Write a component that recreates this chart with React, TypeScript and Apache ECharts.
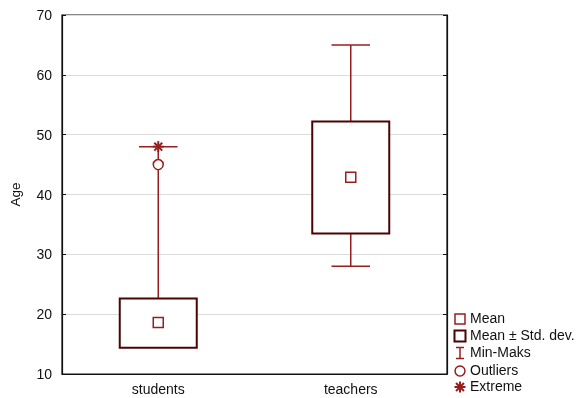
import React, { useEffect, useRef } from "react";
import * as echarts from "echarts";

const categories = ["students", "teachers"];
const means = [18.6, 42.9];
const sdLow = [14.4, 33.5];
const sdHigh = [22.6, 52.2];
const minVals = [17.0, 28.0];
const maxVals = [48.0, 65.0];
const outliers = [[0, 45.0]];
const extremes = [[0, 48.0]];
const yTicks = { min: 10, max: 70, interval: 10 };

const RED = "#981e1e";
const DARK = "#4a0404";
const FONT = "Liberation Sans, Arial, sans-serif";

export default function App() {
  const ref = useRef<HTMLDivElement>(null);
  useEffect(() => {
    const chart = echarts.init(ref.current!, null, { renderer: "svg" });
    const boxData = categories.map((_, i) => [i, minVals[i], maxVals[i], sdLow[i], sdHigh[i], means[i]]);

    const asterisk = (cx: number, cy: number, r: number, w: number, color: string) => {
      const d = r * 0.72;
      const segs = [
        [cx, cy - r, cx, cy + r],
        [cx - r, cy, cx + r, cy],
        [cx - d, cy - d, cx + d, cy + d],
        [cx - d, cy + d, cx + d, cy - d],
      ];
      return segs.map((s) => ({
        type: "line",
        shape: { x1: s[0], y1: s[1], x2: s[2], y2: s[3] },
        style: { stroke: color, lineWidth: w },
      }));
    };

    const lx = 460;
    const legendText = (y: number, t: string) => ({
      type: "text",
      left: 470,
      top: y - 8,
      style: { text: t, fill: "#111", font: `14px ${FONT}` },
    });

    chart.setOption({
      animation: false,
      grid: { left: 62, right: 132, top: 15, bottom: 24, show: true, borderColor: "#111", borderWidth: 1.2 },
      xAxis: {
        type: "category",
        data: categories,
        axisLine: { lineStyle: { color: "#111", width: 1.2 } },
        axisTick: { inside: true, alignWithLabel: true, length: 4, lineStyle: { color: "#111" } },
        axisLabel: { color: "#111", fontFamily: FONT, fontSize: 14, margin: 8 },
        splitLine: { show: false },
      },
      yAxis: [
        {
          type: "value",
          ...yTicks,
          name: "Age",
          nameLocation: "middle",
          nameGap: 40,
          nameTextStyle: { color: "#111", fontFamily: FONT, fontSize: 13.5 },
          axisLine: { show: true, lineStyle: { color: "#111", width: 1.2 } },
          axisTick: { show: true, inside: true, length: 4, lineStyle: { color: "#111" } },
          axisLabel: { color: "#111", fontFamily: FONT, fontSize: 14, margin: 10 },
          splitLine: { show: true, lineStyle: { color: "#dcdcdc", width: 1 } },
        },
        {
          type: "value",
          ...yTicks,
          position: "right",
          axisLine: { show: true, lineStyle: { color: "#111", width: 1.2 } },
          axisTick: { show: true, inside: true, length: 4, lineStyle: { color: "#111" } },
          axisLabel: { show: false },
          splitLine: { show: false },
        },
      ],
      series: [
        {
          type: "custom",
          data: boxData,
          encode: { x: 0, y: [1, 2, 3, 4, 5] },
          renderItem: (params: any, api: any) => {
            const i = api.value(0);
            const band = api.size([1, 0])[0];
            const pMin = api.coord([i, api.value(1)]);
            const pMax = api.coord([i, api.value(2)]);
            const pLo = api.coord([i, api.value(3)]);
            const pHi = api.coord([i, api.value(4)]);
            const pMean = api.coord([i, api.value(5)]);
            const cx = pMin[0];
            const bw = band * 0.4;
            const cw = band * 0.2;
            return {
              type: "group",
              children: [
                { type: "line", shape: { x1: cx, y1: pMin[1], x2: cx, y2: pMax[1] }, style: { stroke: RED, lineWidth: 1.5 } },
                { type: "line", shape: { x1: cx - cw / 2, y1: pMax[1], x2: cx + cw / 2, y2: pMax[1] }, style: { stroke: RED, lineWidth: 1.5 } },
                { type: "line", shape: { x1: cx - cw / 2, y1: pMin[1], x2: cx + cw / 2, y2: pMin[1] }, style: { stroke: RED, lineWidth: 1.5 } },
                { type: "rect", shape: { x: cx - bw / 2, y: pHi[1], width: bw, height: pLo[1] - pHi[1] }, style: { fill: "#fff", stroke: DARK, lineWidth: 2 } },
                { type: "rect", shape: { x: cx - 5, y: pMean[1] - 5, width: 10, height: 10 }, style: { fill: "#fff", stroke: RED, lineWidth: 1.5 } },
              ],
            };
          },
          z: 2,
        },
        {
          type: "custom",
          data: outliers,
          renderItem: (params: any, api: any) => {
            const p = api.coord([api.value(0), api.value(1)]);
            return { type: "circle", shape: { cx: p[0], cy: p[1], r: 5 }, style: { fill: "#fff", stroke: RED, lineWidth: 1.5 } };
          },
          z: 3,
        },
        {
          type: "custom",
          data: extremes,
          renderItem: (params: any, api: any) => {
            const p = api.coord([api.value(0), api.value(1)]);
            return { type: "group", children: asterisk(p[0], p[1], 5.5, 2, RED) };
          },
          z: 4,
        },
      ],
      graphic: [
        { type: "rect", shape: { x: lx - 5, y: 314, width: 10, height: 10 }, style: { fill: "#fff", stroke: RED, lineWidth: 1.5 } },
        legendText(319, "Mean"),
        { type: "rect", shape: { x: lx - 5.5, y: 330.5, width: 11, height: 11 }, style: { fill: "#fff", stroke: DARK, lineWidth: 2 } },
        legendText(336, "Mean ± Std. dev."),
        { type: "line", shape: { x1: lx, y1: 347.5, x2: lx, y2: 358.5 }, style: { stroke: RED, lineWidth: 1.5 } },
        { type: "line", shape: { x1: lx - 4, y1: 347.5, x2: lx + 4, y2: 347.5 }, style: { stroke: RED, lineWidth: 1.5 } },
        { type: "line", shape: { x1: lx - 4, y1: 358.5, x2: lx + 4, y2: 358.5 }, style: { stroke: RED, lineWidth: 1.5 } },
        legendText(353, "Min-Maks"),
        { type: "circle", shape: { cx: lx, cy: 371, r: 5 }, style: { fill: "#fff", stroke: RED, lineWidth: 1.5 } },
        legendText(371, "Outliers"),
        { type: "group", children: asterisk(lx, 387, 5.5, 2, RED) },
        legendText(387, "Extreme"),
      ],
    });
    return () => chart.dispose();
  }, []);
  return <div ref={ref} style={{ position: "fixed", left: 0, top: 0, width: 579, height: 398 }} />;
}
